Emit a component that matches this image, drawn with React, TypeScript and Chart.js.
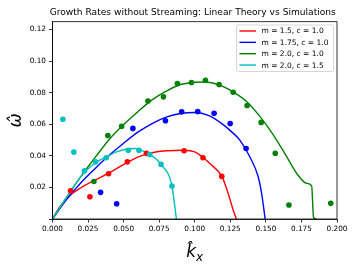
import React, { useEffect, useRef } from "react";
import { Chart, registerables } from "chart.js";

Chart.register(...registerables);

const TITLE = "Growth Rates without Streaming: Linear Theory vs Simulations";
const SERIES_LABELS = ["m = 1.5, c = 1.0", "m = 1.75, c = 1.0", "m = 2.0, c = 1.0", "m = 2.0, c = 1.5"];
const SERIES_COLORS = ["#ff0000", "#0000ff", "#008000", "#00bfbf"];

// Linear theory curves (k, omega)
const redTheoryK = [0, 0.005, 0.0134, 0.02, 0.03, 0.0392, 0.0533, 0.0613, 0.07, 0.08, 0.0925, 0.1, 0.1058, 0.112, 0.119, 0.1235, 0.127, 0.1293];
const redTheoryW = [0, 0.0075, 0.0158, 0.0198, 0.0247, 0.0289, 0.0362, 0.0397, 0.042, 0.0432, 0.0436, 0.0425, 0.039, 0.034, 0.0272, 0.0162, 0.0057, 0];

const blueTheoryK = [0, 0.01, 0.02, 0.03, 0.04, 0.05, 0.06, 0.07, 0.08, 0.09, 0.1, 0.11, 0.12, 0.1246, 0.1317, 0.1387, 0.1446, 0.147, 0.1495];
const blueTheoryW = [0, 0.0125, 0.023, 0.032, 0.0405, 0.048, 0.055, 0.0605, 0.0645, 0.0668, 0.0675, 0.0655, 0.0598, 0.0563, 0.05, 0.0394, 0.0268, 0.0162, 0];

const greenTheoryK = [0, 0.01, 0.02, 0.03, 0.04, 0.05, 0.06, 0.07, 0.08, 0.09, 0.1, 0.107, 0.1176, 0.127, 0.1364, 0.1458, 0.1552, 0.1646, 0.1716, 0.1787, 0.1822, 0.1835, 0.1855];
const greenTheoryW = [0, 0.0138, 0.027, 0.039, 0.0505, 0.0598, 0.068, 0.0755, 0.081, 0.0852, 0.0866, 0.0868, 0.0848, 0.0805, 0.0745, 0.065, 0.0533, 0.0395, 0.029, 0.0226, 0.021, 0.001, 0];

const cyanTheoryK = [0, 0.01, 0.02, 0.03, 0.038, 0.045, 0.0533, 0.058, 0.0613, 0.0688, 0.0763, 0.084, 0.0854, 0.0871];
const cyanTheoryW = [0, 0.0138, 0.027, 0.0355, 0.0394, 0.0425, 0.0445, 0.0447, 0.0438, 0.0409, 0.0346, 0.0209, 0.012, 0];

// Simulation points (k, omega)
const redSimK = [0.0127, 0.0263, 0.0394, 0.0526, 0.066, 0.0925, 0.1058, 0.119];
const redSimW = [0.0179, 0.0141, 0.0287, 0.0362, 0.0416, 0.0432, 0.0388, 0.027];

const blueSimK = [0.0338, 0.0451, 0.0565, 0.0794, 0.0908, 0.1021, 0.1136, 0.1249, 0.1361];
const blueSimW = [0.0169, 0.0097, 0.0574, 0.0622, 0.0679, 0.0681, 0.067, 0.0605, 0.0447];

const greenSimK = [0.0291, 0.0389, 0.0486, 0.0671, 0.078, 0.0878, 0.0977, 0.1075, 0.1171, 0.127, 0.1368, 0.1467, 0.1566, 0.1662, 0.1956];
const greenSimW = [0.0238, 0.0529, 0.0588, 0.0748, 0.0774, 0.0858, 0.0865, 0.0879, 0.0852, 0.0803, 0.0719, 0.0612, 0.0417, 0.0089, 0.0099];

const cyanSimK = [0.0073, 0.015, 0.0225, 0.0303, 0.0378, 0.0533, 0.0608, 0.0683, 0.0763, 0.084];
const cyanSimW = [0.0632, 0.0424, 0.0306, 0.0362, 0.0388, 0.0435, 0.0435, 0.0409, 0.0346, 0.0209];

const X_MIN = 0;
const X_MAX = 0.2;
const X_STEP = 0.025;
const Y_MIN = 0;
const Y_MAX = 0.125;
const Y_STEP = 0.02;

const Y_LABEL = "\u03C9\u0302";
const X_LABEL_MAIN = "k\u0302";
const X_LABEL_SUB = "x";

const FONT = "'DejaVu Sans', sans-serif";

const zip = (xs: number[], ys: number[]) => xs.map((x, i) => ({ x, y: ys[i] }));

const theory = [
  zip(redTheoryK, redTheoryW),
  zip(blueTheoryK, blueTheoryW),
  zip(greenTheoryK, greenTheoryW),
  zip(cyanTheoryK, cyanTheoryW),
];
const sims = [
  zip(redSimK, redSimW),
  zip(blueSimK, blueSimW),
  zip(greenSimK, greenSimW),
  zip(cyanSimK, cyanSimW),
];

const decorPlugin = {
  id: "decor",
  afterDraw(chart: any) {
    const { ctx, chartArea: a } = chart;
    ctx.save();
    // frame
    ctx.strokeStyle = "#000";
    ctx.lineWidth = 0.8;
    ctx.strokeRect(a.left, a.top, a.right - a.left, a.bottom - a.top);

    // title
    ctx.fillStyle = "#000";
    ctx.font = `9.1px ${FONT}`;
    ctx.textAlign = "center";
    ctx.textBaseline = "middle";
    ctx.fillText(TITLE, (a.left + a.right) / 2 - 2, 12.5);

    // x label
    const cx = (a.left + a.right) / 2;
    ctx.font = `italic 17px ${FONT}`;
    const wMain = ctx.measureText(X_LABEL_MAIN).width;
    ctx.font = `italic 12px ${FONT}`;
    const wSub = ctx.measureText(X_LABEL_SUB).width;
    const x0 = cx - (wMain + wSub) / 2;
    ctx.textAlign = "left";
    ctx.textBaseline = "alphabetic";
    ctx.font = `italic 17px ${FONT}`;
    ctx.fillText(X_LABEL_MAIN, x0, 257);
    ctx.font = `italic 12px ${FONT}`;
    ctx.fillText(X_LABEL_SUB, x0 + wMain, 261);

    // y label
    ctx.save();
    ctx.translate(16.5, (a.top + a.bottom) / 2);
    ctx.rotate(-Math.PI / 2);
    ctx.font = `italic 17px ${FONT}`;
    ctx.textAlign = "center";
    ctx.textBaseline = "middle";
    ctx.fillText(Y_LABEL, 0, 0);
    ctx.restore();

    // legend
    const lx = 236.5, ly = 25, lw = 97, lh = 46.5;
    ctx.fillStyle = "rgba(255,255,255,0.8)";
    ctx.strokeStyle = "#cccccc";
    ctx.lineWidth = 0.8;
    ctx.beginPath();
    if ((ctx as any).roundRect) (ctx as any).roundRect(lx, ly, lw, lh, 2);
    else ctx.rect(lx, ly, lw, lh);
    ctx.fill();
    ctx.stroke();
    ctx.font = `7.5px ${FONT}`;
    ctx.textAlign = "left";
    ctx.textBaseline = "middle";
    SERIES_LABELS.forEach((label, i) => {
      const y = 31 + i * 11.35;
      ctx.strokeStyle = SERIES_COLORS[i];
      ctx.lineWidth = 1.4;
      ctx.beginPath();
      ctx.moveTo(239.5, y);
      ctx.lineTo(256, y);
      ctx.stroke();
      ctx.fillStyle = "#000";
      ctx.fillText(label, 261.5, y + 0.5);
    });
    ctx.restore();
  },
};

export default function App() {
  const ref = useRef<HTMLCanvasElement | null>(null);
  useEffect(() => {
    if (!ref.current) return;
    const datasets: any[] = [];
    theory.forEach((d, i) => {
      datasets.push({
        type: "scatter",
        label: SERIES_LABELS[i],
        data: d,
        showLine: true,
        borderColor: SERIES_COLORS[i],
        backgroundColor: SERIES_COLORS[i],
        borderWidth: 1.4,
        pointRadius: 0,
        cubicInterpolationMode: "monotone",
        order: 10 - i,
      });
    });
    sims.forEach((d, i) => {
      datasets.push({
        type: "scatter",
        label: SERIES_LABELS[i] + " sim",
        data: d,
        showLine: false,
        borderColor: SERIES_COLORS[i],
        backgroundColor: SERIES_COLORS[i],
        borderWidth: 0,
        pointRadius: 2.8,
        order: 5 - i,
      });
    });
    const chart = new Chart(ref.current, {
      type: "scatter",
      data: { datasets },
      options: {
        animation: false,
        responsive: false,
        maintainAspectRatio: false,
        layout: { padding: { left: 0, right: 20, top: 21.7, bottom: 0 } },
        plugins: {
          legend: { display: false },
          title: { display: false },
          tooltip: { enabled: false },
        },
        scales: {
          x: {
            type: "linear",
            min: X_MIN,
            max: X_MAX,
            afterFit: (s: any) => { s.height = 49; },
            ticks: {
              stepSize: X_STEP,
              includeBounds: false,
              color: "#000",
              font: { family: FONT, size: 7.3 },
              padding: 2,
              maxRotation: 0,
              autoSkip: false,
              callback: (v: any) => Number(v).toFixed(3),
            },
            grid: { drawOnChartArea: false, drawTicks: true, tickLength: 3.5, color: "#000", lineWidth: 0.8 },
            border: { display: true, color: "#000", width: 0.8 },
          },
          y: {
            type: "linear",
            min: Y_MIN,
            max: Y_MAX,
            afterFit: (s: any) => { s.width = 52.5; },
            ticks: {
              stepSize: Y_STEP,
              includeBounds: false,
              color: "#000",
              font: { family: FONT, size: 7.3 },
              padding: 3,
              autoSkip: false,
              callback: (v: any) => (Math.abs(Number(v)) < 1e-9 ? "" : Number(v).toFixed(2)),
            },
            grid: { drawOnChartArea: false, drawTicks: true, tickLength: 3.5, color: "#000", lineWidth: 0.8 },
            border: { display: true, color: "#000", width: 0.8 },
          },
        },
      },
      plugins: [decorPlugin],
    } as any);
    return () => chart.destroy();
  }, []);
  return (
    <div style={{ position: "fixed", left: 0, top: 0, width: 357, height: 268, background: "#fff" }}>
      <canvas ref={ref} width={357} height={268} style={{ width: 357, height: 268, display: "block" }} />
    </div>
  );
}
